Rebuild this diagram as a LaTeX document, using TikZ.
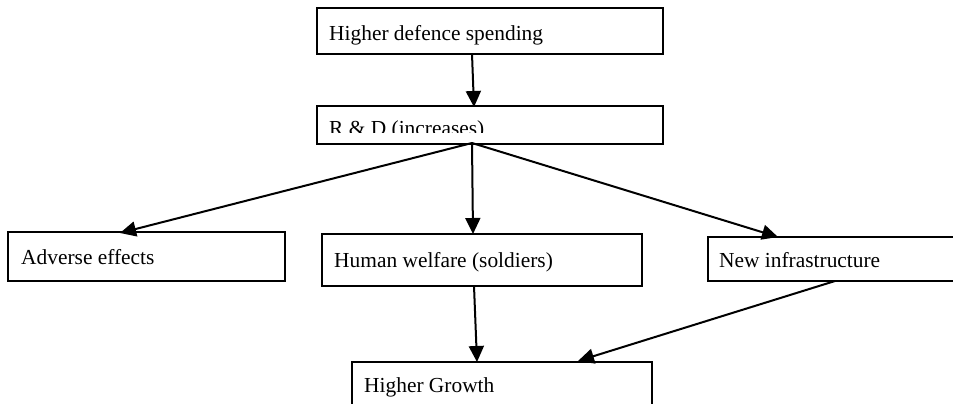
\documentclass[tikz,border=0pt]{standalone}
\usepackage{fontspec}
\setmainfont{Liberation Serif}
\usetikzlibrary{arrows.meta}
\tikzset{
  box/.style={draw, line width=2pt, rectangle, inner sep=0pt},
  txt/.style={anchor=base west, inner sep=0pt, font=\fontsize{21.4}{25}\selectfont},
  flow/.style={line width=2pt, -{Triangle[length=16pt,width=15pt]}}
}
\begin{document}
\begin{tikzpicture}[x=1pt, y=-1pt]
  \useasboundingbox (0,0) rectangle (953,404);
  \clip (0,0) rectangle (953,404);

  % boxes
  \node[box, minimum width=346pt, minimum height=46pt] (spend) at (490,31.5) {};
  \node[box, minimum width=346pt, minimum height=38pt] (rd) at (490,125) {};
  \node[box, minimum width=277pt, minimum height=49pt] (adverse) at (146.5,256.5) {};
  \node[box, minimum width=320pt, minimum height=52pt] (welfare) at (482,260) {};
  \node[box, minimum width=262pt, minimum height=44pt] (infra) at (839,259) {};
  \node[box, minimum width=300pt, minimum height=60pt] (growth) at (502,392) {};

  % labels
  \node[txt] (spendt) at (329,41) {Higher defence spending};
  \begin{scope}
    \clip (317,100) rectangle (663,132.5);
    \node[txt] (rdt) at (329,135) {R \& D (increases)};
  \end{scope}
  \node[txt] (adverset) at (21,264) {Adverse effects};
  \node[txt] (welfaret) at (334,267) {Human welfare (soldiers)};
  \node[txt] (infrat) at (719,267) {New infrastructure};
  \node[txt] (growtht) at (364,392) {Higher Growth};

  % connector ends
  \coordinate (spendout) at (472,54);
  \coordinate (rdin) at (474,107);
  \coordinate (rdout) at (472,143);
  \coordinate (adversein) at (120,233);
  \coordinate (welfarein) at (473,234);
  \coordinate (infrain) at (778,237);
  \coordinate (welfareout) at (474,286);
  \coordinate (infraout) at (835,281);
  \coordinate (growthin1) at (477,362);
  \coordinate (growthin2) at (578,361);

  % connectors
  \draw[flow] (spendout) -- (rdin);
  \draw[flow] (rdout) -- (adversein);
  \draw[flow] (rdout) -- (welfarein);
  \draw[flow] (rdout) -- (infrain);
  \draw[flow] (welfareout) -- (growthin1);
  \draw[flow] (infraout) -- (growthin2);
\end{tikzpicture}
\end{document}
